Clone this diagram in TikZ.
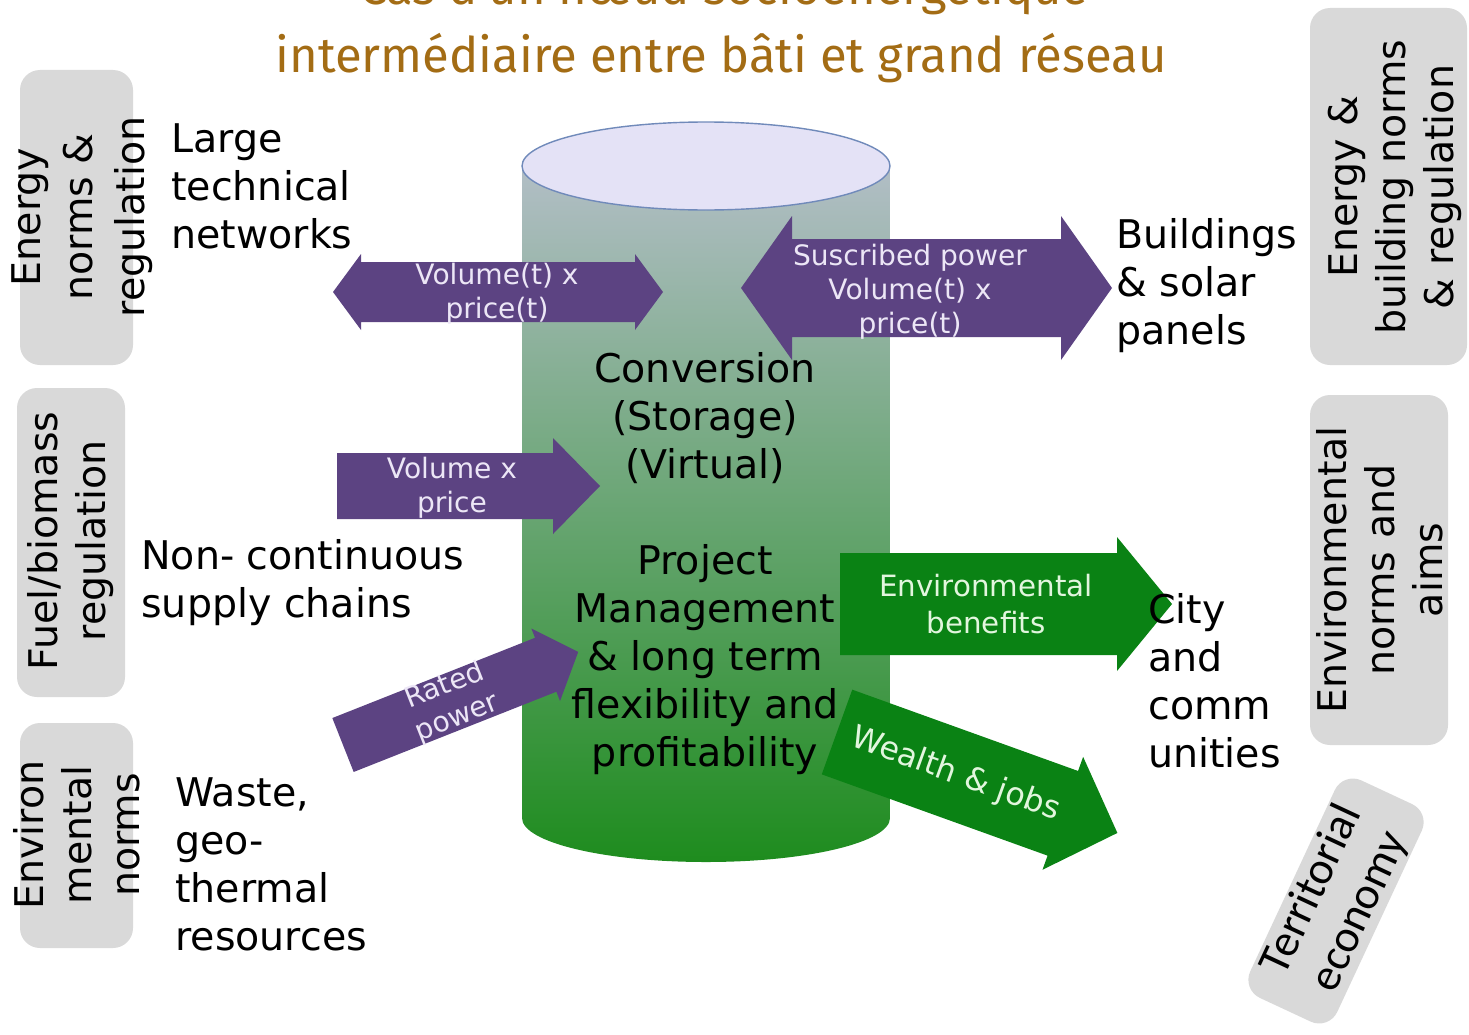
\documentclass[tikz,border=0pt]{standalone}
\usepackage{fontspec}
\setmainfont{DejaVu Sans}
\newfontfamily\titlefont{Fira Sans}
\newfontfamily\boxfont{Carlito}
\definecolor{titlecol}{RGB}{163,108,20}
\definecolor{boxcol}{RGB}{217,217,217}
\definecolor{flowcol}{RGB}{92,67,130}
\definecolor{flowtextcol}{RGB}{236,230,246}
\definecolor{benefitcol}{RGB}{10,130,20}
\definecolor{benefittextcol}{RGB}{226,246,222}
\definecolor{lidcol}{RGB}{228,226,246}
\definecolor{lidedgecol}{RGB}{112,138,186}
\definecolor{tanktopcol}{RGB}{178,190,198}
\definecolor{tankmidcol}{RGB}{104,174,104}
\definecolor{tankbotcol}{RGB}{30,140,30}
\tikzset{
  labeltext/.style={font=\fontsize{22.5}{27.3}\selectfont, inner sep=0pt, align=left, anchor=west},
  tanktext/.style={font=\fontsize{22.5}{27.3}\selectfont, inner sep=0pt, align=center},
  normtext/.style={font=\fontsize{22.5}{27.3}\selectfont, inner sep=0pt, align=center, rotate=90},
  normbox/.style={fill=boxcol, rounded corners=0.4cm},
  flowtext/.style={font=\fontsize{16}{19.3}\selectfont, text=flowtextcol, inner sep=0pt, align=center},
  benefittext/.style={font=\fontsize{16.7}{21.5}\selectfont, text=benefittextcol, inner sep=0pt, align=center},
}

\begin{document}
\begin{tikzpicture}[x=0.02cm, y=-0.02cm]

  \useasboundingbox (0,0) rectangle (1469,1034);
  \clip (0,0) rectangle (1469,1034);

  % Title (first line runs off the top of the slide).
  \node (titleone) [font=\titlefont\fontsize{27.9}{34}\selectfont, text=titlecol, anchor=base]
    at (724,5) {Cas d'un nœud socioénergétique};
  \node (titletwo) [font=\titlefont\fontsize{27.9}{34}\selectfont, text=titlecol, anchor=base]
    at (721,72) {intermédiaire entre bâti et grand réseau};

  % Grey boxes, left side.
  \fill[normbox] (20,70) rectangle (133,365);
  \fill[normbox] (17,388) rectangle (125,697);
  \fill[normbox] (20,723) rectangle (133,948);
  \node (energynorms) [normtext, font=\fontsize{22.5}{29.5}\selectfont] at (82,217)
    {Energy\\norms \&\\regulation};
  \node (fuelnorms) [normtext] at (71,541) {Fuel/biomass\\regulation};
  \node (envnorms) [normtext] at (77,835) {Environ\\mental\\norms};

  % Grey boxes, right side.
  \fill[normbox] (1310,8) rectangle (1467,365);
  \fill[normbox] (1310,395) rectangle (1448,745);
  \node (buildnorms) [normtext] at (1395,187)
    {Energy \&\\building norms\\\& regulation};
  \node (envaims) [normtext] at (1380,570) {Environmental\\norms and\\aims};
  \begin{scope}[shift={(1336,901)}, rotate=65]
    \fill[normbox] (-120,-48) rectangle (120,48);
    \node (territory) [font=\boxfont\fontsize{26}{30}\selectfont, inner sep=0pt,
      align=center, rotate=65] at (0,0) {Territorial\\economy};
  \end{scope}

  % The tank.
  \shade[top color=tanktopcol, middle color=tankmidcol, bottom color=tankbotcol]
    (522,166) -- (522,818) arc[start angle=180, end angle=0, x radius=184, y radius=44]
    -- (890,166) -- cycle;
  \filldraw[fill=lidcol, draw=lidedgecol, thick] (706,166) ellipse[x radius=184, y radius=44];

  % Purple flows.
  \begin{scope}[shift={(333,292)}]
    \fill[flowcol] (0,0) -- (28,-38) -- (28,-30) -- (302,-30) -- (302,-38) -- (330,0)
      -- (302,38) -- (302,30) -- (28,30) -- (28,38) -- cycle;
    \node (netflow) [flowtext] at (164,2) {Volume(t) x\\price(t)};
  \end{scope}
  \begin{scope}[shift={(741,288)}]
    \fill[flowcol] (0,0) -- (51,-72) -- (51,-49) -- (320,-49) -- (320,-72) -- (371,0)
      -- (320,72) -- (320,49) -- (51,49) -- (51,72) -- cycle;
    \node (buildflow) [flowtext] at (169,4) {Suscribed power\\Volume(t) x\\price(t)};
  \end{scope}
  \begin{scope}[shift={(337,486)}]
    \fill[flowcol] (0,-33) -- (216,-33) -- (216,-48) -- (263,0) -- (216,48) -- (216,33)
      -- (0,33) -- cycle;
    \node (fuelflow) [flowtext] at (115,2) {Volume x\\price};
  \end{scope}
  \begin{scope}[shift={(343,745)}, rotate=21.6]
    \fill[flowcol] (0,-29) -- (218,-29) -- (218,-39) -- (253,0) -- (218,39) -- (218,29)
      -- (0,29) -- cycle;
    \node (wasteflow) [flowtext, rotate=21.6] at (116,0) {Rated\\power};
  \end{scope}

  % Green benefits.
  \begin{scope}[shift={(840,604)}]
    \fill[benefitcol] (0,-51) -- (277,-51) -- (277,-67) -- (332,0) -- (277,67) -- (277,51)
      -- (0,51) -- cycle;
    \node (envbenefit) [benefittext] at (146,0) {Environmental\\benefits};
  \end{scope}
  \begin{scope}[shift={(837,732)}, rotate=-19.8]
    \fill[benefitcol] (0,-45) -- (240,-45) -- (240,-60) -- (298,0) -- (240,60) -- (240,45)
      -- (0,45) -- cycle;
    \node (wealth) [benefittext, font=\fontsize{18}{21}\selectfont, rotate=-19.8]
      at (126,0) {Wealth \& jobs};
  \end{scope}

  % Inside the tank.
  \node (conversion) [tanktext] at (705,418) {Conversion\\(Storage)\\(Virtual)};
  \node (project) [tanktext] at (705,660)
    {Project\\Management\\\& long term\\flexibility and\\profitability};

  % Actors around the tank.
  \node (networks) [labeltext] at (171,186) {Large\\technical\\networks};
  \node (supply) [labeltext] at (141,583) {Non- continuous\\supply chains};
  \node (waste) [labeltext] at (175,864) {Waste,\\geo-\\thermal\\resources};
  \node (buildings) [labeltext] at (1116,286) {Buildings\\\& solar\\panels};
  \node (city) [labeltext] at (1148,681) {City\\and\\comm\\unities};

\end{tikzpicture}
\end{document}
